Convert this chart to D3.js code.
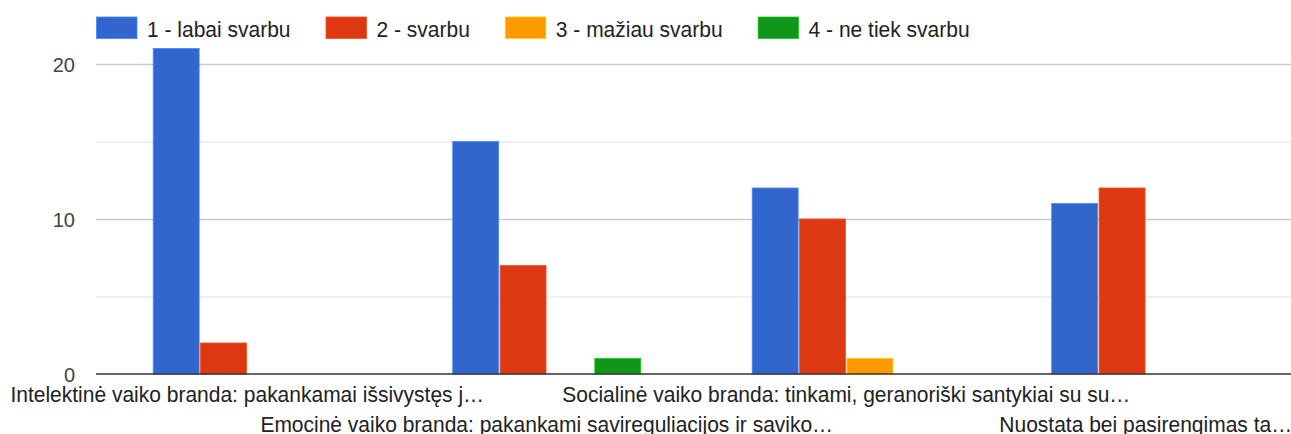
<!DOCTYPE html>
<html>
<head>
<meta charset="utf-8">
<script src="https://cdn.jsdelivr.net/npm/d3@7"></script>
<style>
  html, body { margin: 0; padding: 0; background: #fff; }
  svg { display: block; font-family: "Liberation Sans", Arial, sans-serif; }
</style>
</head>
<body>
<div id="chart"></div>
<script>
// kategorijos (x ašis)
const categories = [
  "Intelektinė vaiko branda: pakankamai išsivystęs j…",
  "Emocinė vaiko branda: pakankami savireguliacijos ir saviko…",
  "Socialinė vaiko branda: tinkami, geranoriški santykiai su su…",
  "Nuostata bei pasirengimas ta…"
];
const seriesNames = ["1 - labai svarbu", "2 - svarbu", "3 - mažiau svarbu", "4 - ne tiek svarbu"];
const seriesColors = ["#3366cc", "#dc3912", "#ff9900", "#109618"];
// reikšmės pagal seriją
const labaiSvarbu = [21, 15, 12, 11];
const svarbu = [2, 7, 10, 12];
const maziauSvarbu = [0, 0, 1, 0];
const neTiekSvarbu = [0, 1, 0, 0];
const yTicks = [0, 10, 20];
const yGrid = [5, 10, 15, 20];

const series = [labaiSvarbu, svarbu, maziauSvarbu, neTiekSvarbu];

const width = 1291, height = 434;
const svg = d3.select("#chart").append("svg")
  .attr("width", width)
  .attr("height", height);

// x skalės
const x0 = d3.scaleBand()
  .domain(categories)
  .range([97.5, 1295.5])
  .paddingInner(0.372)
  .paddingOuter(0.186);

const x1 = d3.scaleBand()
  .domain(d3.range(seriesNames.length))
  .range([0, x0.bandwidth()])
  .paddingInner(0.03);

const y = d3.scaleLinear()
  .domain([0, 20])
  .range([374, 64]);

// tinklelis
svg.append("g")
  .selectAll("line")
  .data(yGrid)
  .join("line")
  .attr("x1", 96)
  .attr("x2", width)
  .attr("y1", d => y(d) + 0.5)
  .attr("y2", d => y(d) + 0.5)
  .attr("stroke", d => d % 10 === 0 ? "#cccccc" : "#ebebeb")
  .attr("stroke-width", 1.5);

// y ašies etiketės
const yAxis = d3.axisLeft(y).tickValues(yTicks).tickSize(0).tickPadding(0);
svg.append("g")
  .attr("transform", "translate(75,0)")
  .call(yAxis)
  .call(g => g.select(".domain").remove())
  .call(g => g.selectAll("text")
    .attr("font-family", "Liberation Sans, Arial, sans-serif")
    .attr("font-size", 20)
    .attr("fill", "#444")
    .attr("dy", "0.35em"));

// stulpeliai
const groups = svg.append("g")
  .selectAll("g")
  .data(categories)
  .join("g")
  .attr("transform", d => `translate(${x0(d)},0)`);

groups.selectAll("rect")
  .data((d, i) => series.map((s, k) => ({ k: k, v: s[i] })).filter(e => e.v > 0))
  .join("rect")
  .attr("x", d => x1(d.k))
  .attr("width", x1.bandwidth())
  .attr("y", d => y(d.v))
  .attr("height", d => y(0) - y(d.v))
  .attr("fill", d => seriesColors[d.k])
  .attr("stroke", d => d3.color(seriesColors[d.k]).brighter(0.8))
  .attr("stroke-width", 0.8);

// bazinė linija
svg.append("line")
  .attr("x1", 96)
  .attr("x2", width)
  .attr("y1", y(0))
  .attr("y2", y(0))
  .attr("stroke", "#333")
  .attr("stroke-width", 1.6);

// x ašies etiketės (dvi eilės)
svg.append("g")
  .selectAll("text")
  .data(categories)
  .join("text")
  .attr("transform", (d, i) => `translate(${x0(d) + x0.bandwidth() / 2},${i % 2 === 0 ? 401.5 : 432}) scale(1,1.06)`)
  .attr("text-anchor", "middle")
  .attr("font-size", 21)
  .attr("fill", "#222")
  .text(d => d);

// legenda
const legend = svg.append("g");
let lx = 96;
seriesNames.forEach((name, k) => {
  legend.append("rect")
    .attr("x", lx + 0.5)
    .attr("y", 17)
    .attr("width", 40.5)
    .attr("height", 21.5)
    .attr("fill", seriesColors[k])
    .attr("stroke", d3.color(seriesColors[k]).brighter(0.8))
    .attr("stroke-width", 0.8);
  const t = legend.append("text")
    .attr("transform", `translate(${lx + 51},36.5) scale(1,1.06)`)
    .attr("font-size", 21)
    .attr("fill", "#222")
    .text(name);
  lx += 51 + t.node().getComputedTextLength() + 35;
});
</script>
</body>
</html>
